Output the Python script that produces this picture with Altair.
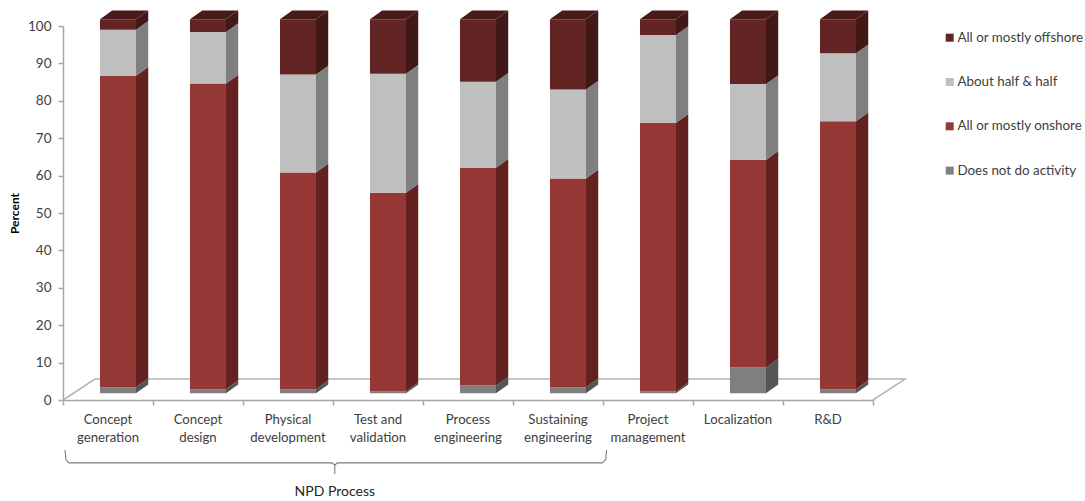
import altair as alt
import pandas as pd

FONT = "Lato"
TEXT_COLOR = "#404040"

categories = [
    "Concept\ngeneration", "Concept\ndesign", "Physical\ndevelopment",
    "Test and\nvalidation", "Process\nengineering", "Sustaining\nengineering",
    "Project\nmanagement", "Localization", "R&D",
]
no_activity = [1.6, 1.1, 1.1, 0.5, 2.1, 1.6, 0.5, 6.9, 1.1]
onshore = [83.3, 81.7, 57.9, 53.1, 58.2, 55.8, 71.8, 55.5, 71.6]
half = [12.3, 13.8, 26.2, 31.8, 23.0, 23.8, 23.5, 20.3, 18.2]
offshore = [2.8, 3.4, 14.8, 14.6, 16.7, 18.8, 4.2, 17.3, 9.1]

series_names = ["All or mostly offshore", "About half & half",
                "All or mostly onshore", "Does not do activity"]
front_colors = ["#632523", "#BFBFBF", "#953735", "#7F7F7F"]
side_colors = {"All or mostly offshore": "#421817", "About half & half": "#7F7F7F",
               "All or mostly onshore": "#632120", "Does not do activity": "#555555"}
top_color = "#481A18"

# Projection of the pseudo-3D columns, in axis units
BAR_LEFT, BAR_RIGHT = 0.411, 0.811
DEPTH_X, DEPTH_Y = 0.136, 2.35
FLOOR_LIFT = 1.8
FLOOR_DX, FLOOR_DY = 0.356, 5.6

stack_order = [("Does not do activity", no_activity), ("All or mostly onshore", onshore),
               ("About half & half", half), ("All or mostly offshore", offshore)]

front_rows, face_rows = [], []
for i in range(len(categories)):
    x0, x1 = i + BAR_LEFT, i + BAR_RIGHT
    cum = FLOOR_LIFT
    for name, values in stack_order:
        low = cum
        cum += values[i]
        high = cum
        front_rows.append(dict(x=x0, x2=x1, y=low, y2=high, series=name))
        face = f"{i}-{name}"
        face_rows.append(dict(face=face, x=x1, y=low, y2=high, shade=side_colors[name]))
        face_rows.append(dict(face=face, x=x1 + DEPTH_X, y=low + DEPTH_Y, y2=high + DEPTH_Y,
                              shade=side_colors[name]))
    top = cum
    face = f"{i}-top"
    for px, lo, hi in [(x0, top, top), (x0 + DEPTH_X, top, top + DEPTH_Y),
                       (x1, top, top + DEPTH_Y), (x1 + DEPTH_X, top + DEPTH_Y, top + DEPTH_Y)]:
        face_rows.append(dict(face=face, x=px, y=lo, y2=hi, shade=top_color))

x_scale = alt.Scale(domain=[0, 9], nice=False, zero=False)
y_scale = alt.Scale(domain=[0, 100], nice=False, zero=False)

x_axis = alt.Axis(values=list(range(10)), labels=False, title=None, grid=False, tickSize=5,
                  domainColor="#A6A6A6", tickColor="#A6A6A6", domainWidth=1.5, tickWidth=1.5)
y_axis = alt.Axis(values=list(range(0, 101, 10)), title="Percent", grid=False, tickSize=5,
                  domainColor="#A6A6A6", tickColor="#A6A6A6", domainWidth=1.5, tickWidth=1.5,
                  labelFont=FONT, labelFontSize=13.5, labelColor=TEXT_COLOR, labelPadding=7,
                  titleFont=FONT, titleFontSize=12, titleFontWeight="bold", titleColor="black",
                  titlePadding=6)

X = alt.X("x:Q", scale=x_scale, axis=x_axis)
Y = alt.Y("y:Q", scale=y_scale, axis=y_axis, stack=None)

# Floor of the plot: the back and side edges behind the columns
floor_df = pd.DataFrame({
    "x": [0, FLOOR_DX, 9 + FLOOR_DX, 9],
    "y": [0, FLOOR_DY, FLOOR_DY, 0],
    "o": range(4),
})
floor = alt.Chart(floor_df).mark_line(color="#B4B4B4", strokeWidth=1.5).encode(
    x=X, y=Y, order="o:Q",
)

# Side and top faces: one area layer for each shade
faces_df = pd.DataFrame(face_rows)
face_layers = [
    alt.Chart(faces_df[faces_df["shade"] == shade]).mark_area(color=shade, orient="vertical").encode(
        x=X, y=Y, y2="y2:Q", detail="face:N",
    )
    for shade in faces_df["shade"].unique()
]

fronts = alt.Chart(pd.DataFrame(front_rows)).mark_rect().encode(
    x=X, x2="x2:Q",
    y=alt.Y("y:Q", scale=y_scale, axis=y_axis),
    y2="y2:Q",
    color=alt.Color(
        "series:N",
        scale=alt.Scale(domain=series_names, range=front_colors),
        legend=alt.Legend(
            title=None, orient="none", legendX=880, legendY=5,
            symbolType="square", symbolSize=64, symbolStrokeWidth=0, rowPadding=29.3,
            labelFont=FONT, labelFontSize=13.4, labelColor=TEXT_COLOR, labelOffset=1,
            labelLimit=200,
        ),
    ),
)

label_df = pd.DataFrame({"x": [i + 0.5 for i in range(len(categories))], "label": categories})
cat_labels = alt.Chart(label_df).mark_text(
    lineBreak="\n", lineHeight=17.5, baseline="top", font=FONT, fontSize=13.2, color=TEXT_COLOR,
).encode(
    x=X,
    y=alt.value(388),
    text="label:N",
)

# Brace that groups the first six stages
brace_x = [0.022, 0.033, 0.067, 2.99, 3.02, 3.02, 3.02, 3.05, 5.99, 6.03, 6.04]
brace_y = [-13.4, -16.0, -16.8, -16.8, -17.4, -19.8, -17.4, -16.8, -16.8, -16.0, -13.4]
brace = alt.Chart(pd.DataFrame({"x": brace_x, "y": brace_y, "o": range(len(brace_x))})).mark_line(
    color="#7A7A7A", strokeWidth=1.1,
).encode(
    x=X, y=Y, order="o:Q",
)

brace_label = alt.Chart(pd.DataFrame({"x": [3.02], "y": [-24.6], "t": ["NPD Process"]})).mark_text(
    font=FONT, fontSize=14, color="#262626",
).encode(
    x=X, y=Y, text="t:N",
)

chart = alt.layer(floor, *face_layers, fronts, cat_labels, brace, brace_label).properties(
    width=810,
    height=374,
    autosize=alt.AutoSizeParams(type="none"),
    padding={"left": 63, "top": 26, "right": 212, "bottom": 101},
    background="white",
).configure_view(stroke=None)

chart.save("out.html", embed_options={"renderer": "svg", "actions": False})
